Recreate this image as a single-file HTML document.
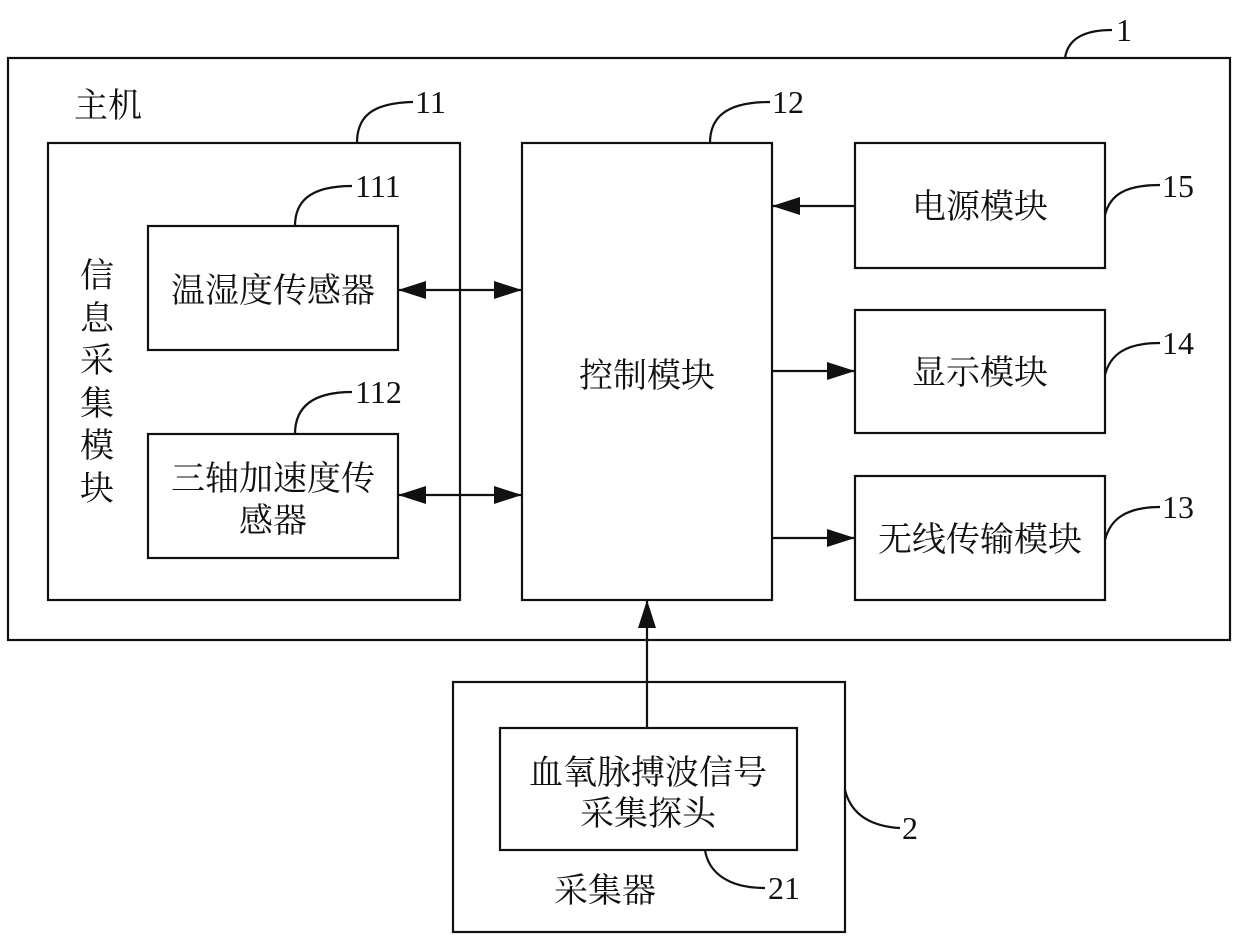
<!DOCTYPE html>
<html><head><meta charset="utf-8"><style>
html,body{margin:0;padding:0;background:#fff;}
svg{display:block}
text{font-family:"Liberation Serif","Noto Serif CJK SC","Noto Sans CJK SC",serif;fill:#111;}
.c{font-size:34px;text-anchor:middle;}
.n{font-size:32px;}
</style></head><body>
<svg width="1240" height="940" viewBox="0 0 1240 940" xmlns="http://www.w3.org/2000/svg">
<defs>
<marker id="b" viewBox="0 0 28 18" refX="28" refY="9" markerWidth="28" markerHeight="18" markerUnits="userSpaceOnUse" orient="auto-start-reverse">
<path d="M0,0 L28,9 L0,18 z" fill="#111"/></marker>
</defs>
<g fill="none" stroke="#111" stroke-width="2.2">
<rect x="8" y="58" width="1222" height="582"/>
<rect x="48" y="143" width="412" height="457"/>
<rect x="148" y="226" width="250" height="124"/>
<rect x="148" y="434" width="250" height="124"/>
<rect x="522" y="143" width="250" height="457"/>
<rect x="855" y="143" width="250" height="125"/>
<rect x="855" y="310" width="250" height="123"/>
<rect x="855" y="476" width="250" height="124"/>
<rect x="453" y="682" width="392" height="250"/>
<rect x="500" y="728" width="297" height="122"/>
<path d="M1065,58 C1068,38 1085,30 1112,30"/>
<path d="M357,143 C357,118 370,103 413,102"/>
<path d="M295,226 C295,203 308,186 352,186"/>
<path d="M295,434 C295,411 308,392 352,392"/>
<path d="M710,143 C710,118 725,102 770,102"/>
<path d="M1105,215 C1110,195 1125,185 1160,185"/>
<path d="M1105,375 C1110,355 1125,343 1160,343"/>
<path d="M1105,540 C1110,520 1125,507 1160,507"/>
<path d="M845,790 C850,810 865,826 900,828"/>
<path d="M705,850 C708,870 725,888 765,888"/>
<line x1="855" y1="206" x2="772" y2="206" marker-end="url(#b)"/>
<line x1="772" y1="371" x2="855" y2="371" marker-end="url(#b)"/>
<line x1="772" y1="538" x2="855" y2="538" marker-end="url(#b)"/>
<line x1="398" y1="290" x2="522" y2="290" marker-start="url(#b)" marker-end="url(#b)"/>
<line x1="398" y1="495" x2="522" y2="495" marker-start="url(#b)" marker-end="url(#b)"/>
<line x1="647" y1="728" x2="647" y2="600" marker-end="url(#b)"/>
</g>
<text class="c" x="108" y="117">主机</text>
<text class="c" x="97" y="287">信</text>
<text class="c" x="97" y="330">息</text>
<text class="c" x="97" y="372">采</text>
<text class="c" x="97" y="415">集</text>
<text class="c" x="97" y="457">模</text>
<text class="c" x="97" y="500">块</text>
<text class="c" x="273" y="302">温湿度传感器</text>
<text class="c" x="273" y="490">三轴加速度传</text>
<text class="c" x="273" y="532">感器</text>
<text class="c" x="647" y="387">控制模块</text>
<text class="c" x="980" y="218">电源模块</text>
<text class="c" x="980" y="384">显示模块</text>
<text class="c" x="980" y="551">无线传输模块</text>
<text class="c" x="648" y="784">血氧脉搏波信号</text>
<text class="c" x="648" y="825">采集探头</text>
<text class="c" x="605" y="902">采集器</text>
<text class="n" x="1116" y="41">1</text>
<text class="n" x="415" y="113">11</text>
<text class="n" x="355" y="197">111</text>
<text class="n" x="355" y="403">112</text>
<text class="n" x="772" y="113">12</text>
<text class="n" x="1162" y="197">15</text>
<text class="n" x="1162" y="354">14</text>
<text class="n" x="1162" y="518">13</text>
<text class="n" x="902" y="839">2</text>
<text class="n" x="768" y="899">21</text>
</svg>
</body></html>
